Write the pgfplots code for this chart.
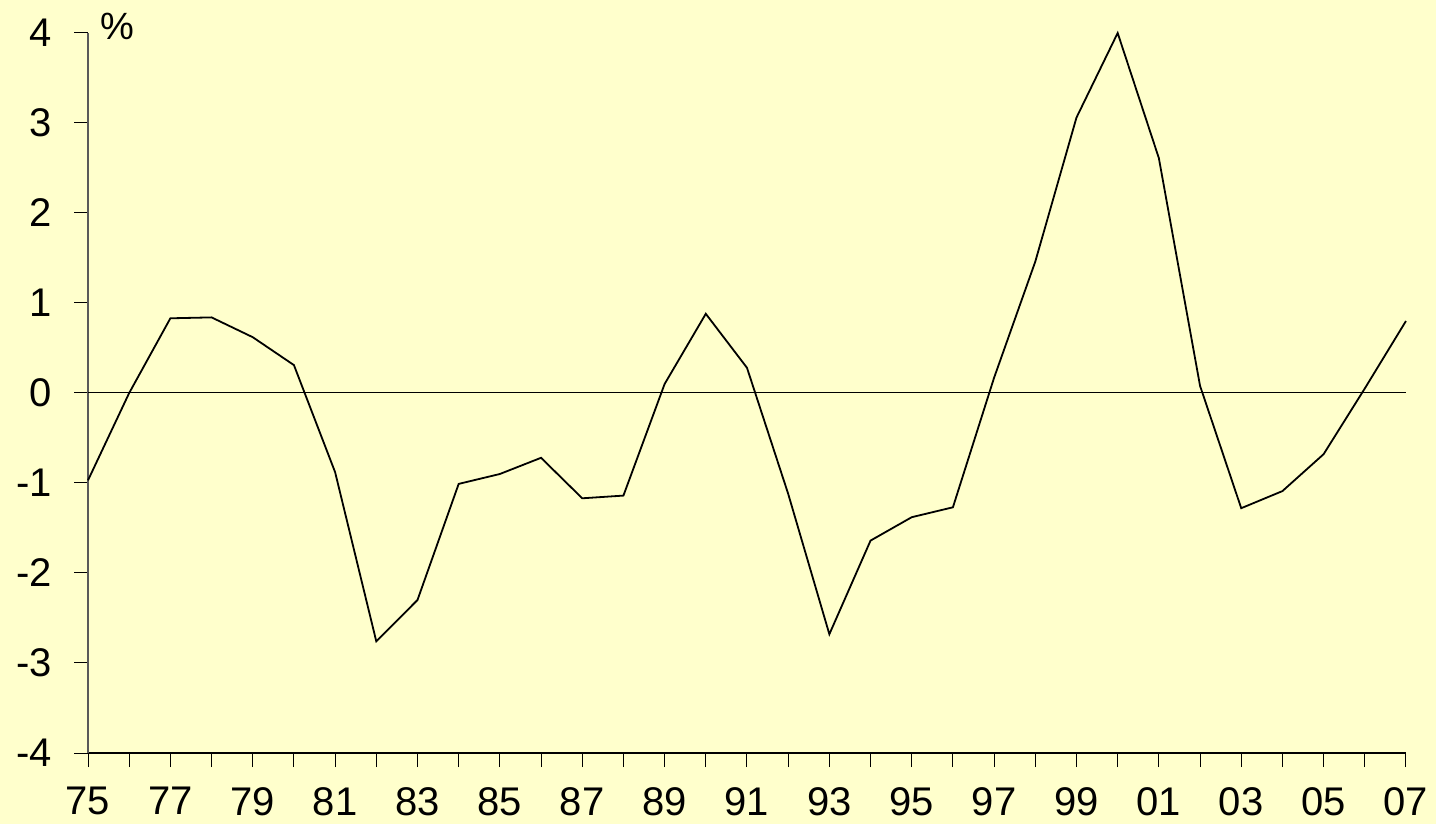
\documentclass[border=0pt]{standalone}
\usepackage{pgfplots}
\pgfplotsset{compat=1.18}
\usepackage{fontspec}
\setmainfont{Liberation Sans}
\definecolor{bgyellow}{HTML}{FFFFCC}

\begin{document}
\begin{tikzpicture}[x=1bp,y=1bp]
\fill[bgyellow] (0,0) rectangle (1436,824);
\begin{axis}[
    at={(88bp,71bp)}, anchor=south west,
    scale only axis,
    width=1318bp, height=720bp,
    xmin=1975, xmax=2007,
    ymin=-4, ymax=4,
    axis lines*=left,
    x axis line style={black, line width=1.2bp},
    y axis line style={black!65, line width=1.2bp},
    xtick={1975,1977,...,2007},
    minor xtick={1976,1978,...,2006},
    xticklabels={75,77,79,81,83,85,87,89,91,93,95,97,99,01,03,05,07},
    ytick={-4,-3,...,4},
    tick align=outside,
    major tick length=14bp, minor tick length=14bp,
    every tick/.style={black, line width=1bp},
    minor tick style={black, line width=1bp},
    tick label style={font=\fontsize{40bp}{44bp}\selectfont, inner sep=0pt},
    /pgf/number format/assume math mode=true,
    yticklabel style={anchor=east, xshift=-22bp},
    xticklabel style={anchor=north, yshift=-20bp},
    clip=false,
]
\addplot[black, line width=1bp] coordinates {(1975,0) (2007,0)};
\addplot[black, line width=1.8bp] coordinates {
(1975,-0.97) (1976,0.0) (1977,0.83) (1978,0.84) (1979,0.62) (1980,0.31)
(1981,-0.88) (1982,-2.76) (1983,-2.30) (1984,-1.01) (1985,-0.90) (1986,-0.72)
(1987,-1.17) (1988,-1.14) (1989,0.10) (1990,0.88) (1991,0.28) (1992,-1.12)
(1993,-2.68) (1994,-1.64) (1995,-1.38) (1996,-1.27) (1997,0.17) (1998,1.46)
(1999,3.06) (2000,4.00) (2001,2.61) (2002,0.08) (2003,-1.28) (2004,-1.09)
(2005,-0.68) (2006,0.05) (2007,0.80)
};
\node[anchor=west, font=\fontsize{38bp}{42bp}\selectfont, inner sep=0pt]
  at (rel axis cs:0,1) [xshift=12bp, yshift=7bp] {\%};
\end{axis}
\pgfresetboundingbox
\useasboundingbox (0,0) rectangle (1436,824);
\end{tikzpicture}
\end{document}
